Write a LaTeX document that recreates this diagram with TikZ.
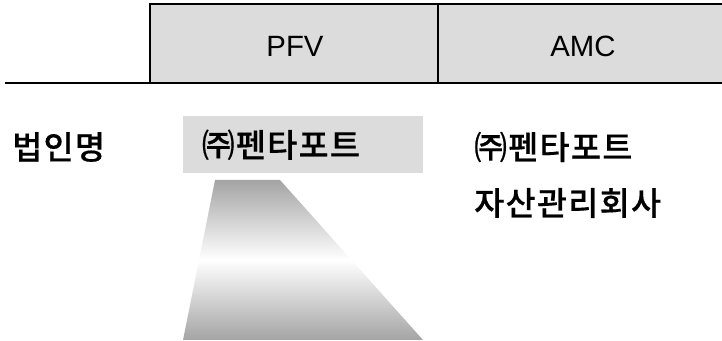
\documentclass[tikz,border=0pt]{standalone}
\usepackage{fontspec}
\setmainfont{Liberation Sans}
\newfontfamily\kor{Noto Sans CJK KR Medium}[FakeBold=0.4, LetterSpace=4]
\definecolor{cellgray}{HTML}{DCDCDC}
\definecolor{shadegray}{HTML}{A4A4A4}

\def\headerbox{(150,4) rectangle (722,83)}
\def\trapezoid{(215,180) -- (280,180) -- (423,340) -- (183,340) -- cycle}
\def\korfont{\kor\fontsize{24.5}{30}\selectfont}

\begin{document}
\begin{tikzpicture}[x=0.75pt,y=-0.75pt,
    heading/.style={font=\fontsize{22}{26}\selectfont},
    label/.style={font=\korfont, inner sep=0pt, anchor=west}]
    \useasboundingbox (0,0) rectangle (722,341);

    \fill[cellgray] \headerbox;
    \draw[line width=1.5pt] (722,4) -- (150,4) -- (150,83);
    \draw[line width=1.5pt] (438,4) -- (438,83);
    \draw[line width=1.5pt] (5,83) -- (722,83);
    \node[heading] (pfv) at (295,46) {PFV};
    \node[heading] (amc) at (583,46) {AMC};

    \node[label] (name) at (12,147) {법인명};
    \node[font=\korfont, fill=cellgray, anchor=north west, inner xsep=14pt,
          text width=152pt, minimum height=42.75pt, align=left] (pfvname) at (183,116) {㈜펜타포트};
    \node[label] (amcname) at (474,147) {㈜펜타포트};
    \node[label] (amcfull) at (474,203) {자산관리회사};

    \shade[top color=shadegray, bottom color=shadegray, middle color=white] \trapezoid;
\end{tikzpicture}
\end{document}
